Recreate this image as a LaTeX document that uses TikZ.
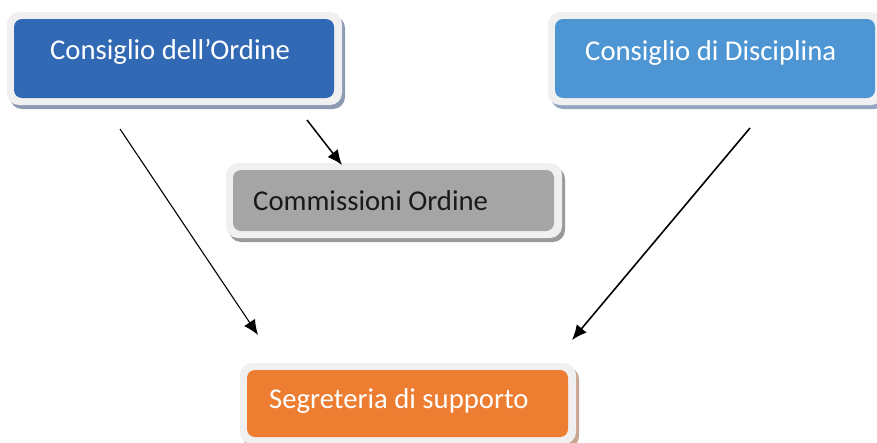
\documentclass[tikz,border=0pt]{standalone}
\usepackage{fontspec}
\setmainfont{Carlito}
\usetikzlibrary{arrows.meta}
\definecolor{ordblue}{HTML}{3169B4}
\definecolor{discblue}{HTML}{4E96D3}
\definecolor{comgray}{HTML}{A5A5A5}
\definecolor{segorange}{HTML}{ED7D31}
\definecolor{framegray}{HTML}{F0F0F0}
\definecolor{shblue}{HTML}{8C9AB3}
\definecolor{shlblue}{HTML}{93A8C0}
\definecolor{shgray}{HTML}{9A9A9A}
\definecolor{shorange}{HTML}{C8A68E}
\newcommand{\framedshape}[5]{%
  \fill[#5, rounded corners=12pt] ({#1-7+3},{#2-7+4}) rectangle ({#3+8+3},{#4+7+4});
  \fill[framegray, rounded corners=12pt] ({#1-7},{#2-7}) rectangle ({#3+8},{#4+7});
}
\tikzset{
  inbox/.style={rounded corners=8pt, inner sep=0pt, draw=none},
  lbl/.style={inner sep=0pt, anchor=base west, font=\fontsize{28.7}{34}\selectfont},
  conn/.style={-{Latex[length=15pt,width=13pt]}, black}
}
\begin{document}
\begin{tikzpicture}[x=1pt,y=-1pt]
\useasboundingbox (0,0) rectangle (877,442);
\clip (0,0) rectangle (877,442);
\fill[white] (0,0) rectangle (877,442);
% Consiglio dell'Ordine
\framedshape{14}{19}{334}{98}{shblue}
\node[inbox, fill=ordblue, minimum width=320pt, minimum height=79pt] (ordine) at (174,58.5) {};
\node[lbl, text=white] (ordinet) at (50,59) {Consiglio dell’Ordine};
% Consiglio di Disciplina
\framedshape{555}{19}{875}{98}{shlblue}
\node[inbox, fill=discblue, minimum width=320pt, minimum height=79pt] (disc) at (715,58.5) {};
\node[lbl, text=white] (disct) at (585,60) {Consiglio di Disciplina};
% Commissioni Ordine
\framedshape{233}{170}{554}{231}{shgray}
\node[inbox, fill=comgray, minimum width=321pt, minimum height=61pt] (comm) at (393.5,200.5) {};
\node[lbl, text=black!90] (commt) at (253,210) {Commissioni Ordine};
% Segreteria di supporto
\framedshape{247}{370}{568}{437}{shorange}
\node[inbox, fill=segorange, minimum width=321pt, minimum height=67pt] (seg) at (407.5,403.5) {};
\node[lbl, text=white] (segt) at (269,408) {Segreteria di supporto};
% arrows
\coordinate (a1s) at (120,129);
\coordinate (a1e) at (258,335);
\coordinate (a2s) at (307,120);
\coordinate (a2e) at (342,165);
\coordinate (a3s) at (750,128);
\coordinate (a3e) at (572,340);
\draw[conn, line width=1.1pt] (a1s) -- (a1e);
\draw[conn, line width=1.5pt] (a2s) -- (a2e);
\draw[conn, line width=1.6pt] (a3s) -- (a3e);
\end{tikzpicture}
\end{document}
